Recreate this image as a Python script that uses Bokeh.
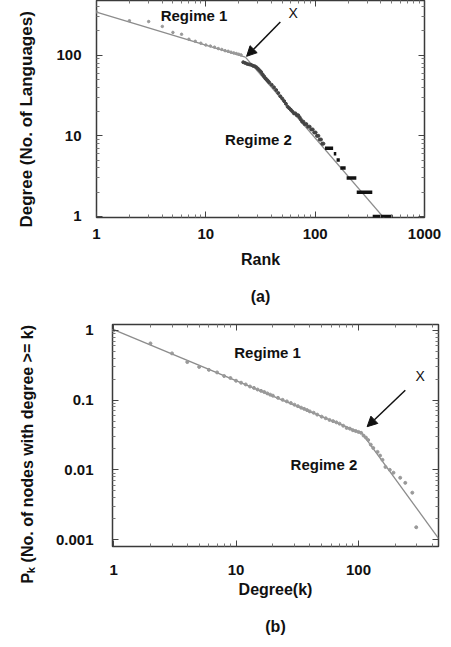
from bokeh.plotting import figure
from bokeh.models import (FixedTicker, CustomJSTickFormatter, Label, Arrow, NormalHead,
                          Title, Range1d, LogAxis)
from bokeh.embed import file_html
from bokeh.resources import INLINE

FONT = "Liberation Sans"
INK = "#111111"

# ---------------- Panel (a): degree vs rank ----------------
rank_r1 = [1, 2, 3, 4, 5, 6, 7, 8, 9, 10, 11, 12, 13, 14, 15, 16, 17, 18, 19, 20, 21]
deg_r1 = [345, 268, 262, 228, 192, 182, 158, 149, 141, 134, 130, 126, 121, 118, 114,
          112, 109, 107, 105, 103, 101]

rank_r2 = [22, 23, 24, 25, 26, 27, 28, 29, 30, 31, 32, 33, 34, 35, 36, 37, 38, 40, 42,
           44, 46, 48, 50, 52, 54, 56, 58, 60, 62, 64, 66, 68, 70, 72, 74, 76, 78, 80,
           83, 86, 89, 92, 95, 98, 101, 104, 107, 110, 113, 116, 119]
deg_r2 = [82, 80, 78, 77, 76, 74, 73, 71, 68, 65, 62, 58, 55, 52, 50, 48, 46, 43, 40,
          37, 34, 31, 29, 27, 25, 23, 22, 21, 20, 19, 19, 18, 18, 17, 16, 15, 15, 14,
          14, 13, 13, 12, 12, 11, 11, 10, 10, 9, 9, 8, 8]

# runs of equal degree (first rank, last rank)
tie_deg = [7, 6, 5, 4, 3, 2, 1]
tie_rank_first = [123, 148, 157, 170, 194, 240, 336]
tie_rank_last = [146, 156, 168, 190, 238, 333, 512]

fit_a1_rank = [1, 23]
fit_a1_deg = [343, 95]
fit_a2_rank = [23, 440]
fit_a2_deg = [95, 0.91]

xticks_a = [1, 10, 100, 1000]
yticks_a = [1, 10, 100]

# ---------------- Panel (b): cumulative degree distribution ----------------
k_r1 = [1, 2, 3, 4, 5, 6, 7, 8, 9, 10, 11, 12, 13, 14, 15, 16, 17, 18, 19, 20, 22, 24,
        26, 28, 30, 32, 34, 36, 38, 40, 43, 46, 50, 54, 58, 62, 66, 70, 75, 80, 85, 90,
        95, 100, 105]
P_r1 = [1.0, 0.652, 0.469, 0.352, 0.300, 0.272, 0.250, 0.222, 0.208, 0.190, 0.178,
        0.168, 0.157, 0.150, 0.142, 0.136, 0.131, 0.125, 0.120, 0.116, 0.108, 0.101,
        0.096, 0.091, 0.086, 0.082, 0.078, 0.075, 0.072, 0.069, 0.066, 0.062, 0.058,
        0.055, 0.052, 0.050, 0.048, 0.046, 0.043, 0.040, 0.039, 0.037, 0.036, 0.035,
        0.034]
k_r2 = [110, 115, 120, 126, 132, 143, 150, 157, 166, 180, 193, 219, 241, 275, 296]
P_r2 = [0.031, 0.029, 0.0268, 0.023, 0.0206, 0.0181, 0.016, 0.0139, 0.011, 0.0100,
        0.0091, 0.0077, 0.0065, 0.0047, 0.0015]

fit_b1_k = [1, 107]
fit_b1_P = [1.03, 0.0334]
fit_b2_k = [107, 450]
fit_b2_P = [0.0334, 0.00104]

xticks_b = [1, 10, 100]
yticks_b = [0.001, 0.01, 0.1, 1]


def minors(lo, hi):
    return [m * 10.0 ** e for e in range(lo, hi) for m in range(2, 10)]


def tick_style(ax, ticks, minor):
    ax.ticker = FixedTicker(ticks=ticks, minor_ticks=minor)
    ax.axis_line_color = None
    ax.major_tick_in = 6
    ax.major_tick_out = 0
    ax.minor_tick_in = 3
    ax.minor_tick_out = 0
    ax.major_tick_line_color = "#444444"
    ax.minor_tick_line_color = "#777777"


def style_axis(ax, ticks, minor, standoff):
    tick_style(ax, ticks, minor)
    ax.formatter = CustomJSTickFormatter(code="return tick.toString()")
    ax.major_label_text_font = FONT
    ax.major_label_text_font_size = "15px"
    ax.major_label_text_font_style = "bold"
    ax.major_label_text_color = INK
    ax.major_label_standoff = standoff
    ax.axis_label_text_font = FONT
    ax.axis_label_text_font_size = "16px"
    ax.axis_label_text_font_style = "bold"
    ax.axis_label_text_color = INK
    ax.axis_label_text_line_height = 1.1


def mirror_axis(p, side, ticks, minor):
    ax = LogAxis()
    tick_style(ax, ticks, minor)
    ax.formatter = CustomJSTickFormatter(code="return ''")
    ax.major_label_text_font_size = "0px"
    ax.major_label_standoff = 0
    p.add_layout(ax, side)


def base_style(p):
    p.outline_line_color = "#3a3a3a"
    p.outline_line_width = 1.5
    p.grid.visible = False
    p.background_fill_color = "white"
    p.border_fill_color = "white"


def text_label(p, x, y, text, size="15px", style="bold"):
    p.add_layout(Label(x=x, y=y, text=text, text_align="center", text_baseline="middle",
                       text_font=FONT, text_font_size=size, text_font_style=style,
                       text_color=INK))


def side_title(p, text, size, offset, standoff):
    p.add_layout(Title(text=text, align="left", vertical_align="top", offset=offset,
                       standoff=standoff, text_font=FONT, text_font_size=size,
                       text_font_style="bold", text_color=INK), "left")


# ---------------- build panel (a) ----------------
pa = figure(width=451, height=307, x_axis_type="log", y_axis_type="log",
            x_range=Range1d(1, 1000), y_range=Range1d(0.97, 478),
            output_backend="svg", toolbar_location=None, title=None,
            min_border_top=0, min_border_bottom=90, min_border_left=95, min_border_right=27)
base_style(pa)
style_axis(pa.xaxis[0], xticks_a, minors(0, 3), 11)
style_axis(pa.yaxis[0], yticks_a, minors(0, 3), 15)
pa.xaxis[0].axis_label = "Rank\n\n(a)"
pa.xaxis[0].axis_label_standoff = 9
side_title(pa, "Degree (No. of Languages)", "17px", -10, 32)
mirror_axis(pa, "above", xticks_a, minors(0, 3))
mirror_axis(pa, "right", yticks_a, minors(0, 3))

pa.line(fit_a1_rank, fit_a1_deg, line_color="#8c8c8c", line_width=1.3)
pa.line(fit_a2_rank, fit_a2_deg, line_color="#8c8c8c", line_width=1.3)
pa.scatter(rank_r1, deg_r1, marker="circle", size=2.5, color="#999999")
pa.scatter(rank_r2, deg_r2, marker="circle", size=3, color="#444444")
pa.segment(x0=tie_rank_first, y0=tie_deg, x1=tie_rank_last, y1=tie_deg,
           line_color=INK, line_width=3.5)

text_label(pa, 7.8, 312, "Regime 1")
text_label(pa, 30.3, 8.9, "Regime 2")
text_label(pa, 63, 339, "X", size="14px", style="normal")
pa.add_layout(Arrow(end=NormalHead(size=10, fill_color=INK, line_color=INK),
                    x_start=48, y_start=258, x_end=23.6, y_end=97,
                    line_color=INK, line_width=1.5))

# ---------------- build panel (b) ----------------
pb = figure(width=451, height=331, x_axis_type="log", y_axis_type="log",
            x_range=Range1d(0.98, 450), y_range=Range1d(0.000794, 1.218),
            output_backend="svg", toolbar_location=None, title=None,
            min_border_top=17, min_border_bottom=92, min_border_left=112, min_border_right=13)
base_style(pb)
style_axis(pb.xaxis[0], xticks_b, minors(0, 3), 18)
style_axis(pb.yaxis[0], yticks_b, minors(-3, 1), 19)
pb.xaxis[0].axis_label = "Degree(k)\n\n(b)"
pb.xaxis[0].axis_label_standoff = 3
side_title(pb, "P\u2096 (No. of nodes with degree >= k)", "16px", -37, 30)
mirror_axis(pb, "above", xticks_b, minors(0, 3))
mirror_axis(pb, "right", yticks_b, minors(-3, 1))

pb.line(fit_b1_k, fit_b1_P, line_color="#8c8c8c", line_width=1.3)
pb.line(fit_b2_k, fit_b2_P, line_color="#8c8c8c", line_width=1.3)
pb.scatter(k_r1, P_r1, marker="circle", size=3, color="#999999")
pb.scatter(k_r2, P_r2, marker="circle", size=3, color="#999999")

text_label(pb, 18.1, 0.49, "Regime 1")
text_label(pb, 52.2, 0.0118, "Regime 2")
text_label(pb, 319, 0.22, "X", size="14px", style="normal")
pb.add_layout(Arrow(end=NormalHead(size=10, fill_color=INK, line_color=INK),
                    x_start=241, y_start=0.139, x_end=117.6, y_end=0.0416,
                    line_color=INK, line_width=1.5))

open("out.html", "w").write(file_html([pa, pb], INLINE, title="Degree distribution"))
